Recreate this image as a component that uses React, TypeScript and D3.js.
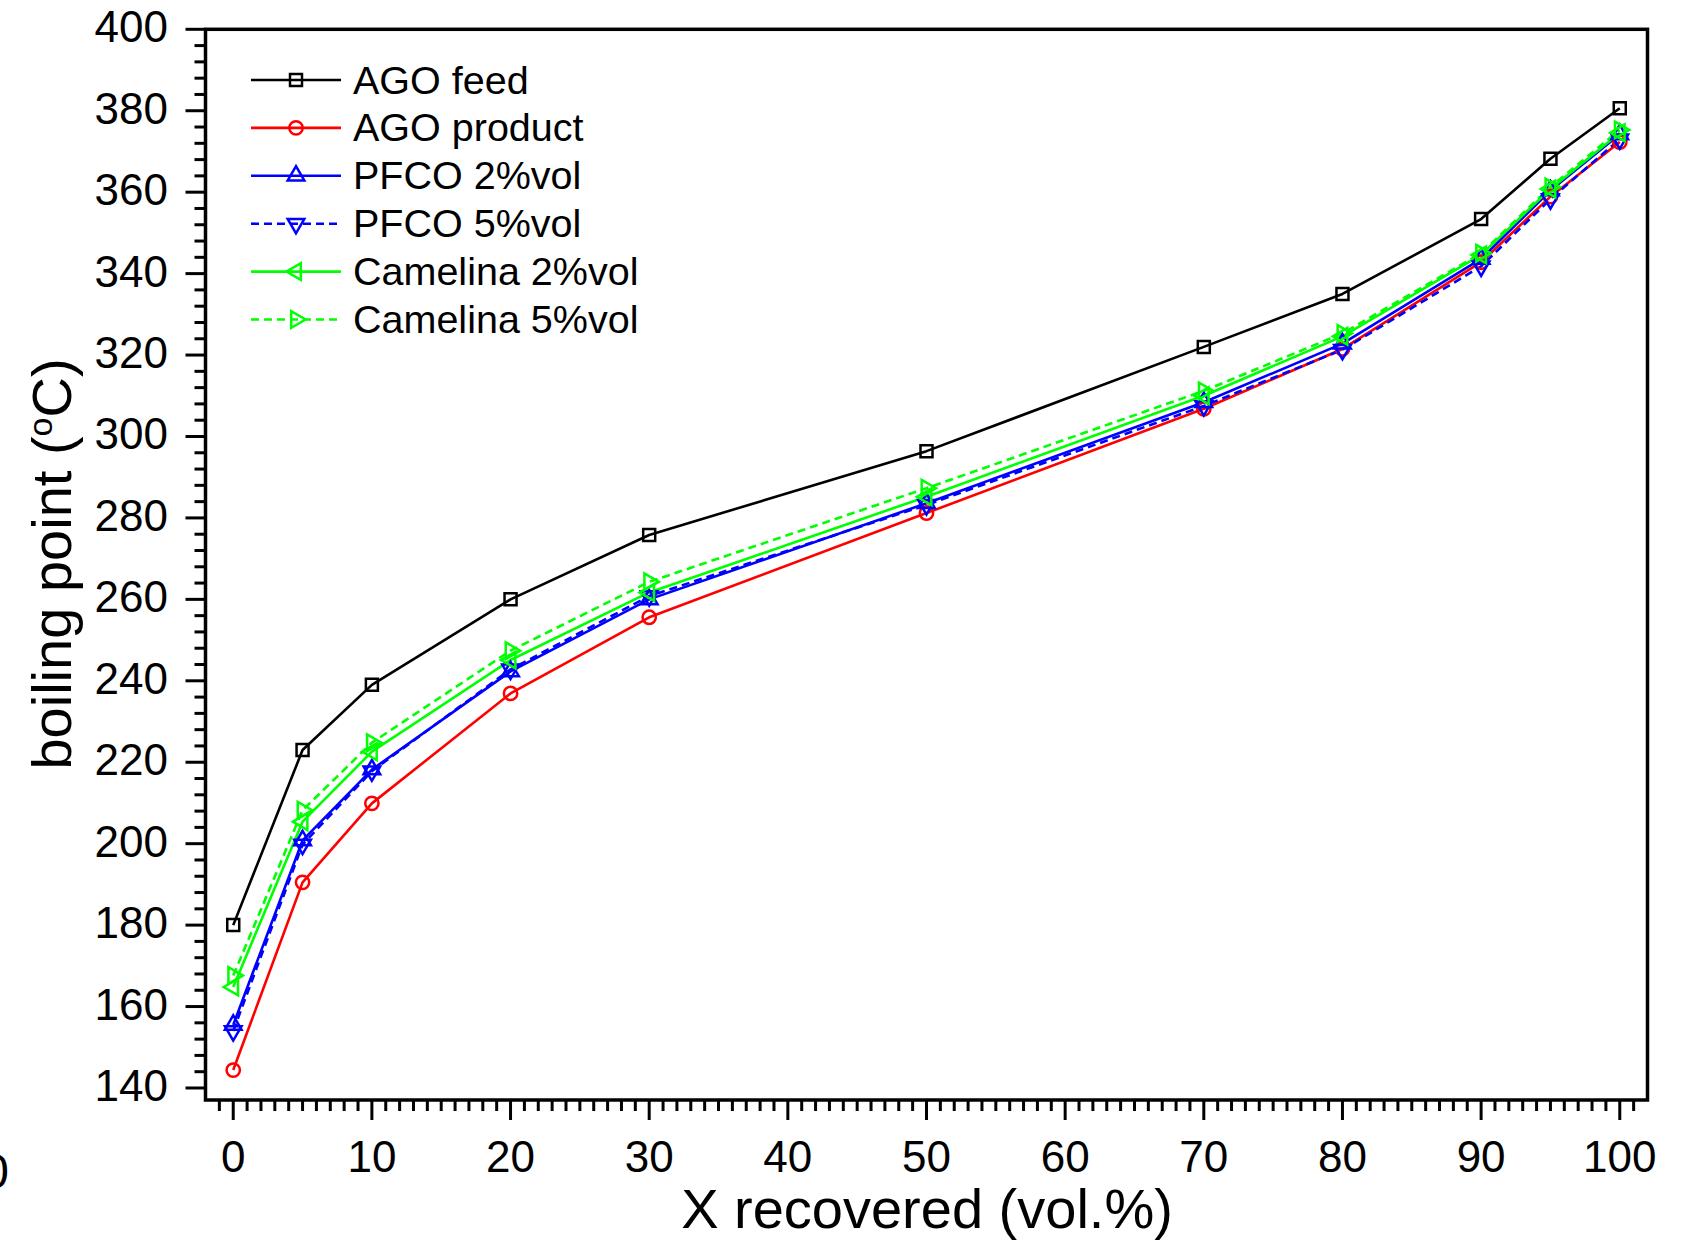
import React from "react";
import * as d3 from "d3";

const recovered = [0, 5, 10, 20, 30, 50, 70, 80, 90, 95, 100];
const agoFeed = [180, 223, 239, 260, 275.8, 296.4, 322, 335, 353.4, 368.2, 380.6];
const agoProduct = [144.4, 190.5, 209.9, 236.9, 255.6, 281.2, 306.8, 321.5, 342.8, 358.9, 372.3];
const pfco2 = [155.5, 200.8, 218.2, 242.3, 260, 283.6, 308.4, 322.8, 343.6, 360.4, 374.2];
const pfco5 = [154, 199.8, 217.8, 242.8, 260.8, 283.2, 307.5, 321.3, 341.8, 358.3, 373];
const camelina2 = [164.8, 205.4, 222.6, 245.1, 261.7, 285.2, 310, 324.6, 344.6, 360.8, 374.6];
const camelina5 = [167.6, 208.2, 224.8, 247.4, 264.3, 287.3, 311.2, 325.3, 345, 361.3, 375.3];

const seriesNames = ["AGO feed", "AGO product", "PFCO 2%vol", "PFCO 5%vol", "Camelina 2%vol", "Camelina 5%vol"];
const seriesValues = [agoFeed, agoProduct, pfco2, pfco5, camelina2, camelina5];
const seriesColors = ["#000000", "#ff0000", "#0000ff", "#0000ff", "#00ff00", "#00ff00"];
const seriesDash = [null, null, null, "8,5", null, "8,5"];
const seriesMarker = ["square", "circle", "up", "down", "left", "right"];

const xTicks = [0, 10, 20, 30, 40, 50, 60, 70, 80, 90, 100];
const yTicks = [140, 160, 180, 200, 220, 240, 260, 280, 300, 320, 340, 360, 380, 400];

const W = 1697;
const H = 1241;
const L = 205.5, R = 1647.5, T = 29.3, B = 1100;

const x = d3.scaleLinear().domain([-2, 102]).range([L, R]);
const y = d3.scaleLinear().domain([137.05, 400]).range([B, T]);

function markerPath(kind: string): { d: string; rot: number } {
  if (kind === "square") return { d: d3.symbol(d3.symbolSquare, 144)() as string, rot: 0 };
  if (kind === "circle") return { d: d3.symbol(d3.symbolCircle, 140)() as string, rot: 0 };
  const tri = d3.symbol(d3.symbolTriangle, 120)() as string;
  const rot = kind === "up" ? 0 : kind === "down" ? 180 : kind === "left" ? -90 : 90;
  return { d: tri, rot };
}

function Marker({ kind, cx, cy, color }: { kind: string; cx: number; cy: number; color: string }) {
  const m = markerPath(kind);
  return (
    <path
      d={m.d}
      transform={`translate(${cx},${cy}) rotate(${m.rot})`}
      fill="none"
      stroke={color}
      strokeWidth={2.5}
    />
  );
}

export default function App() {
  const line = d3
    .line<number>()
    .x((_, i) => x(recovered[i]))
    .y((v) => y(v));

  const xMinor = d3.range(-1, 102, 1).filter((v) => v % 10 !== 0);
  const yMinor = d3.range(140, 400, 4).filter((v) => v % 20 !== 0);

  const font = "'Liberation Sans', Arial, sans-serif";
  const legendX0 = 251, legendX1 = 341, legendTextX = 353;
  const legendY0 = 80, legendDy = 47.9;

  return (
    <svg
      width={W}
      height={H}
      viewBox={`0 0 ${W} ${H}`}
      style={{ position: "absolute", left: 0, top: 0, background: "#fff" }}
      fontFamily={font}
    >
      <rect x={0} y={0} width={W} height={H} fill="#fff" />

      {/* series lines */}
      {seriesValues.map((vals, si) => (
        <path
          key={`l${si}`}
          d={line(vals) as string}
          fill="none"
          stroke={seriesColors[si]}
          strokeWidth={2.6}
          strokeDasharray={seriesDash[si] ?? undefined}
          strokeLinejoin="round"
        />
      ))}
      {/* markers */}
      {seriesValues.map((vals, si) =>
        vals.map((v, i) => (
          <Marker
            key={`m${si}-${i}`}
            kind={seriesMarker[si]}
            cx={x(recovered[i])}
            cy={y(v)}
            color={seriesColors[si]}
          />
        ))
      )}

      {/* frame */}
      <rect x={L} y={T} width={R - L} height={B - T} fill="none" stroke="#000" strokeWidth={3.5} />

      {/* x ticks */}
      {xMinor.map((v) => (
        <line key={`xm${v}`} x1={x(v)} x2={x(v)} y1={B} y2={B + 11} stroke="#000" strokeWidth={3} />
      ))}
      {xTicks.map((v) => (
        <g key={`xt${v}`}>
          <line x1={x(v)} x2={x(v)} y1={B} y2={B + 20} stroke="#000" strokeWidth={3} />
          <text x={x(v)} y={1172} textAnchor="middle" fontSize={44} fill="#000">
            {v}
          </text>
        </g>
      ))}

      {/* y ticks */}
      {yMinor.map((v) => (
        <line key={`ym${v}`} x1={L - 11} x2={L} y1={y(v)} y2={y(v)} stroke="#000" strokeWidth={3} />
      ))}
      {yTicks.map((v) => (
        <g key={`yt${v}`}>
          <line x1={L - 20} x2={L} y1={y(v)} y2={y(v)} stroke="#000" strokeWidth={3} />
          <text x={168} y={y(v) + 13} textAnchor="end" fontSize={44} fill="#000">
            {v}
          </text>
        </g>
      ))}

      {/* axis titles */}
      <text x={927} y={1228} textAnchor="middle" fontSize={56} fill="#000">
        X recovered (vol.%)
      </text>
      <text
        transform={`translate(71,564) rotate(-90)`}
        textAnchor="middle"
        fontSize={56}
        fill="#000"
      >
        boiling point (<tspan dy={-19} fontSize={34}>o</tspan>
        <tspan dy={19}>C)</tspan>
      </text>

      {/* legend */}
      {seriesNames.map((name, si) => {
        const cy = legendY0 + si * legendDy;
        return (
          <g key={`lg${si}`}>
            <line
              x1={legendX0}
              x2={legendX1}
              y1={cy}
              y2={cy}
              stroke={seriesColors[si]}
              strokeWidth={2.6}
              strokeDasharray={seriesDash[si] ?? undefined}
            />
            <Marker kind={seriesMarker[si]} cx={(legendX0 + legendX1) / 2} cy={cy} color={seriesColors[si]} />
            <text x={legendTextX} y={cy + 13.5} fontSize={39.5} fill="#000">
              {name}
            </text>
          </g>
        );
      })}

      {/* cropped fragment at the left edge, as in the reference */}
      <text x={9} y={1188} textAnchor="end" fontSize={48} fill="#000">
        0
      </text>
    </svg>
  );
}
